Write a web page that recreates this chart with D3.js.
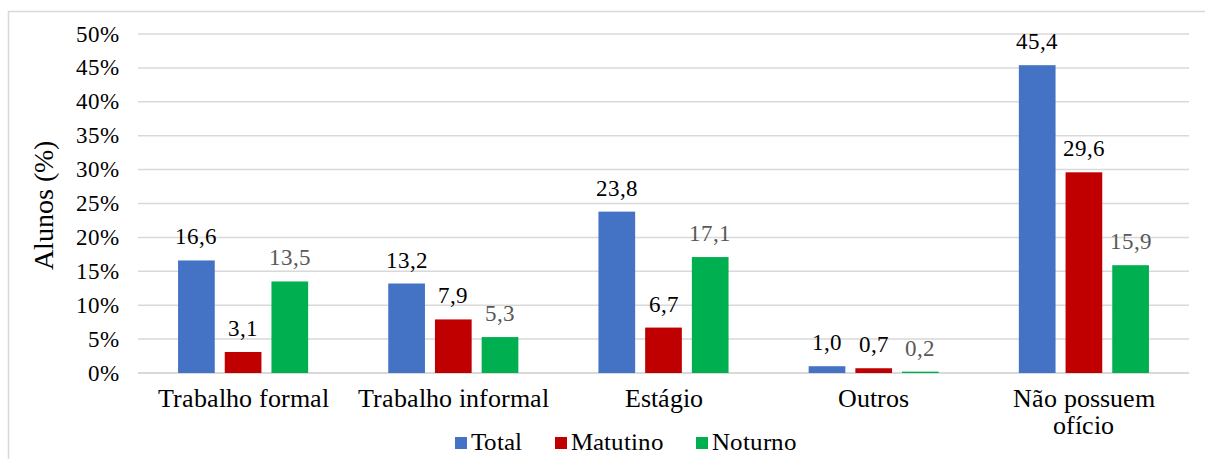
<!DOCTYPE html>
<html>
<head>
<meta charset="utf-8">
<script src="https://cdn.jsdelivr.net/npm/d3@7"></script>
<style>
  @font-face { font-family: "ChartSerif"; src: local("Liberation Serif"), local("LiberationSerif"), local("Tinos"), local("Times New Roman"); }
  body { margin: 0; background: #fff; font-family: ChartSerif, "Liberation Serif", Tinos, serif; }
  svg { display: block; }
  svg text { font-family: ChartSerif, "Liberation Serif", Tinos, serif; }
</style>
</head>
<body style="font-family: ChartSerif, 'Liberation Serif', serif">
<div id="chart"></div>
<script>
const categories = ["Trabalho formal", "Trabalho informal", "Estágio", "Outros", "Não possuem ofício"]
const seriesNames = ["Total", "Matutino", "Noturno"]
const total = [16.6, 13.2, 23.8, 1.0, 45.4]
const matutino = [3.1, 7.9, 6.7, 0.7, 29.6]
const noturno = [13.5, 5.3, 17.1, 0.2, 15.9]
const yTicks = [0, 5, 10, 15, 20, 25, 30, 35, 40, 45, 50]

const colors = ["#4472C4", "#C00000", "#00B050"]
const labelColors = ["#000", "#000", "#595959"]
const values = [total, matutino, noturno]

const width = 1205, height = 459
const svg = d3.select("#chart").append("svg")
    .attr("width", width)
    .attr("height", height)

// outer frame
svg.append("rect")
    .attr("x", 8.5).attr("y", 11.5)
    .attr("width", 1210).attr("height", 470)
    .attr("fill", "none")
    .attr("stroke", "#d9d9d9")
    .attr("stroke-width", 1.5)

const plot = { left: 138, right: 1189, top: 34, bottom: 373 }

const x = d3.scaleBand().domain(categories).range([plot.left, plot.right])
const y = d3.scaleLinear().domain([0, 50]).range([plot.bottom, plot.top])

const barW = 36.7
const step = 46.7

// grid
svg.append("g").selectAll("line")
    .data(yTicks)
    .join("line")
    .attr("x1", plot.left).attr("x2", plot.right)
    .attr("y1", d => y(d)).attr("y2", d => y(d))
    .attr("stroke", "#d9d9d9")
    .attr("stroke-width", d => d === 0 ? 2 : 1.5)

// y tick labels
svg.append("g").selectAll("text")
    .data(yTicks)
    .join("text")
    .attr("x", 119)
    .attr("y", d => y(d) + 7.5)
    .attr("text-anchor", "end")
    .attr("font-size", 23)
    .attr("fill", "#000")
    .text(d => d + "%")

// y title
svg.append("text")
    .attr("transform", "translate(53,205) rotate(-90)")
    .attr("text-anchor", "middle")
    .attr("font-size", 28)
    .text("Alunos (%)")

// bars + value labels
seriesNames.forEach((name, si) => {
    const g = svg.append("g")
    const cx = (d, i) => x(categories[i]) + x.bandwidth() / 2 + (si - 1) * step
    g.selectAll("rect")
        .data(values[si])
        .join("rect")
        .attr("x", (d, i) => cx(d, i) - barW / 2)
        .attr("y", d => y(d))
        .attr("width", barW)
        .attr("height", d => y(0) - y(d))
        .attr("fill", colors[si])
    g.selectAll("text")
        .data(values[si])
        .join("text")
        .attr("x", cx)
        .attr("y", d => y(d) - 16)
        .attr("text-anchor", "middle")
        .attr("font-size", 22.5)
        .attr("fill", labelColors[si])
        .text(d => d.toFixed(1).replace(".", ","))
})

// category labels
const catLines = { "Não possuem ofício": ["Não possuem", "ofício"] }
categories.forEach(c => {
    const lines = catLines[c] || [c]
    lines.forEach((l, i) => {
        svg.append("text")
            .attr("text-anchor", "middle")
            .attr("x", x(c) + x.bandwidth() / 2)
            .attr("y", 407 + i * 26.5)
            .attr("font-size", 26)
            .text(l)
    })
})

// legend
const legendX = [455, 555, 696]
seriesNames.forEach((name, i) => {
    svg.append("rect")
        .attr("x", legendX[i]).attr("y", 437)
        .attr("width", 12).attr("height", 12)
        .attr("fill", colors[i])
    svg.append("text")
        .attr("x", legendX[i] + 16).attr("y", 450)
        .attr("font-size", 25)
        .text(name)
})
</script>
</body>
</html>
